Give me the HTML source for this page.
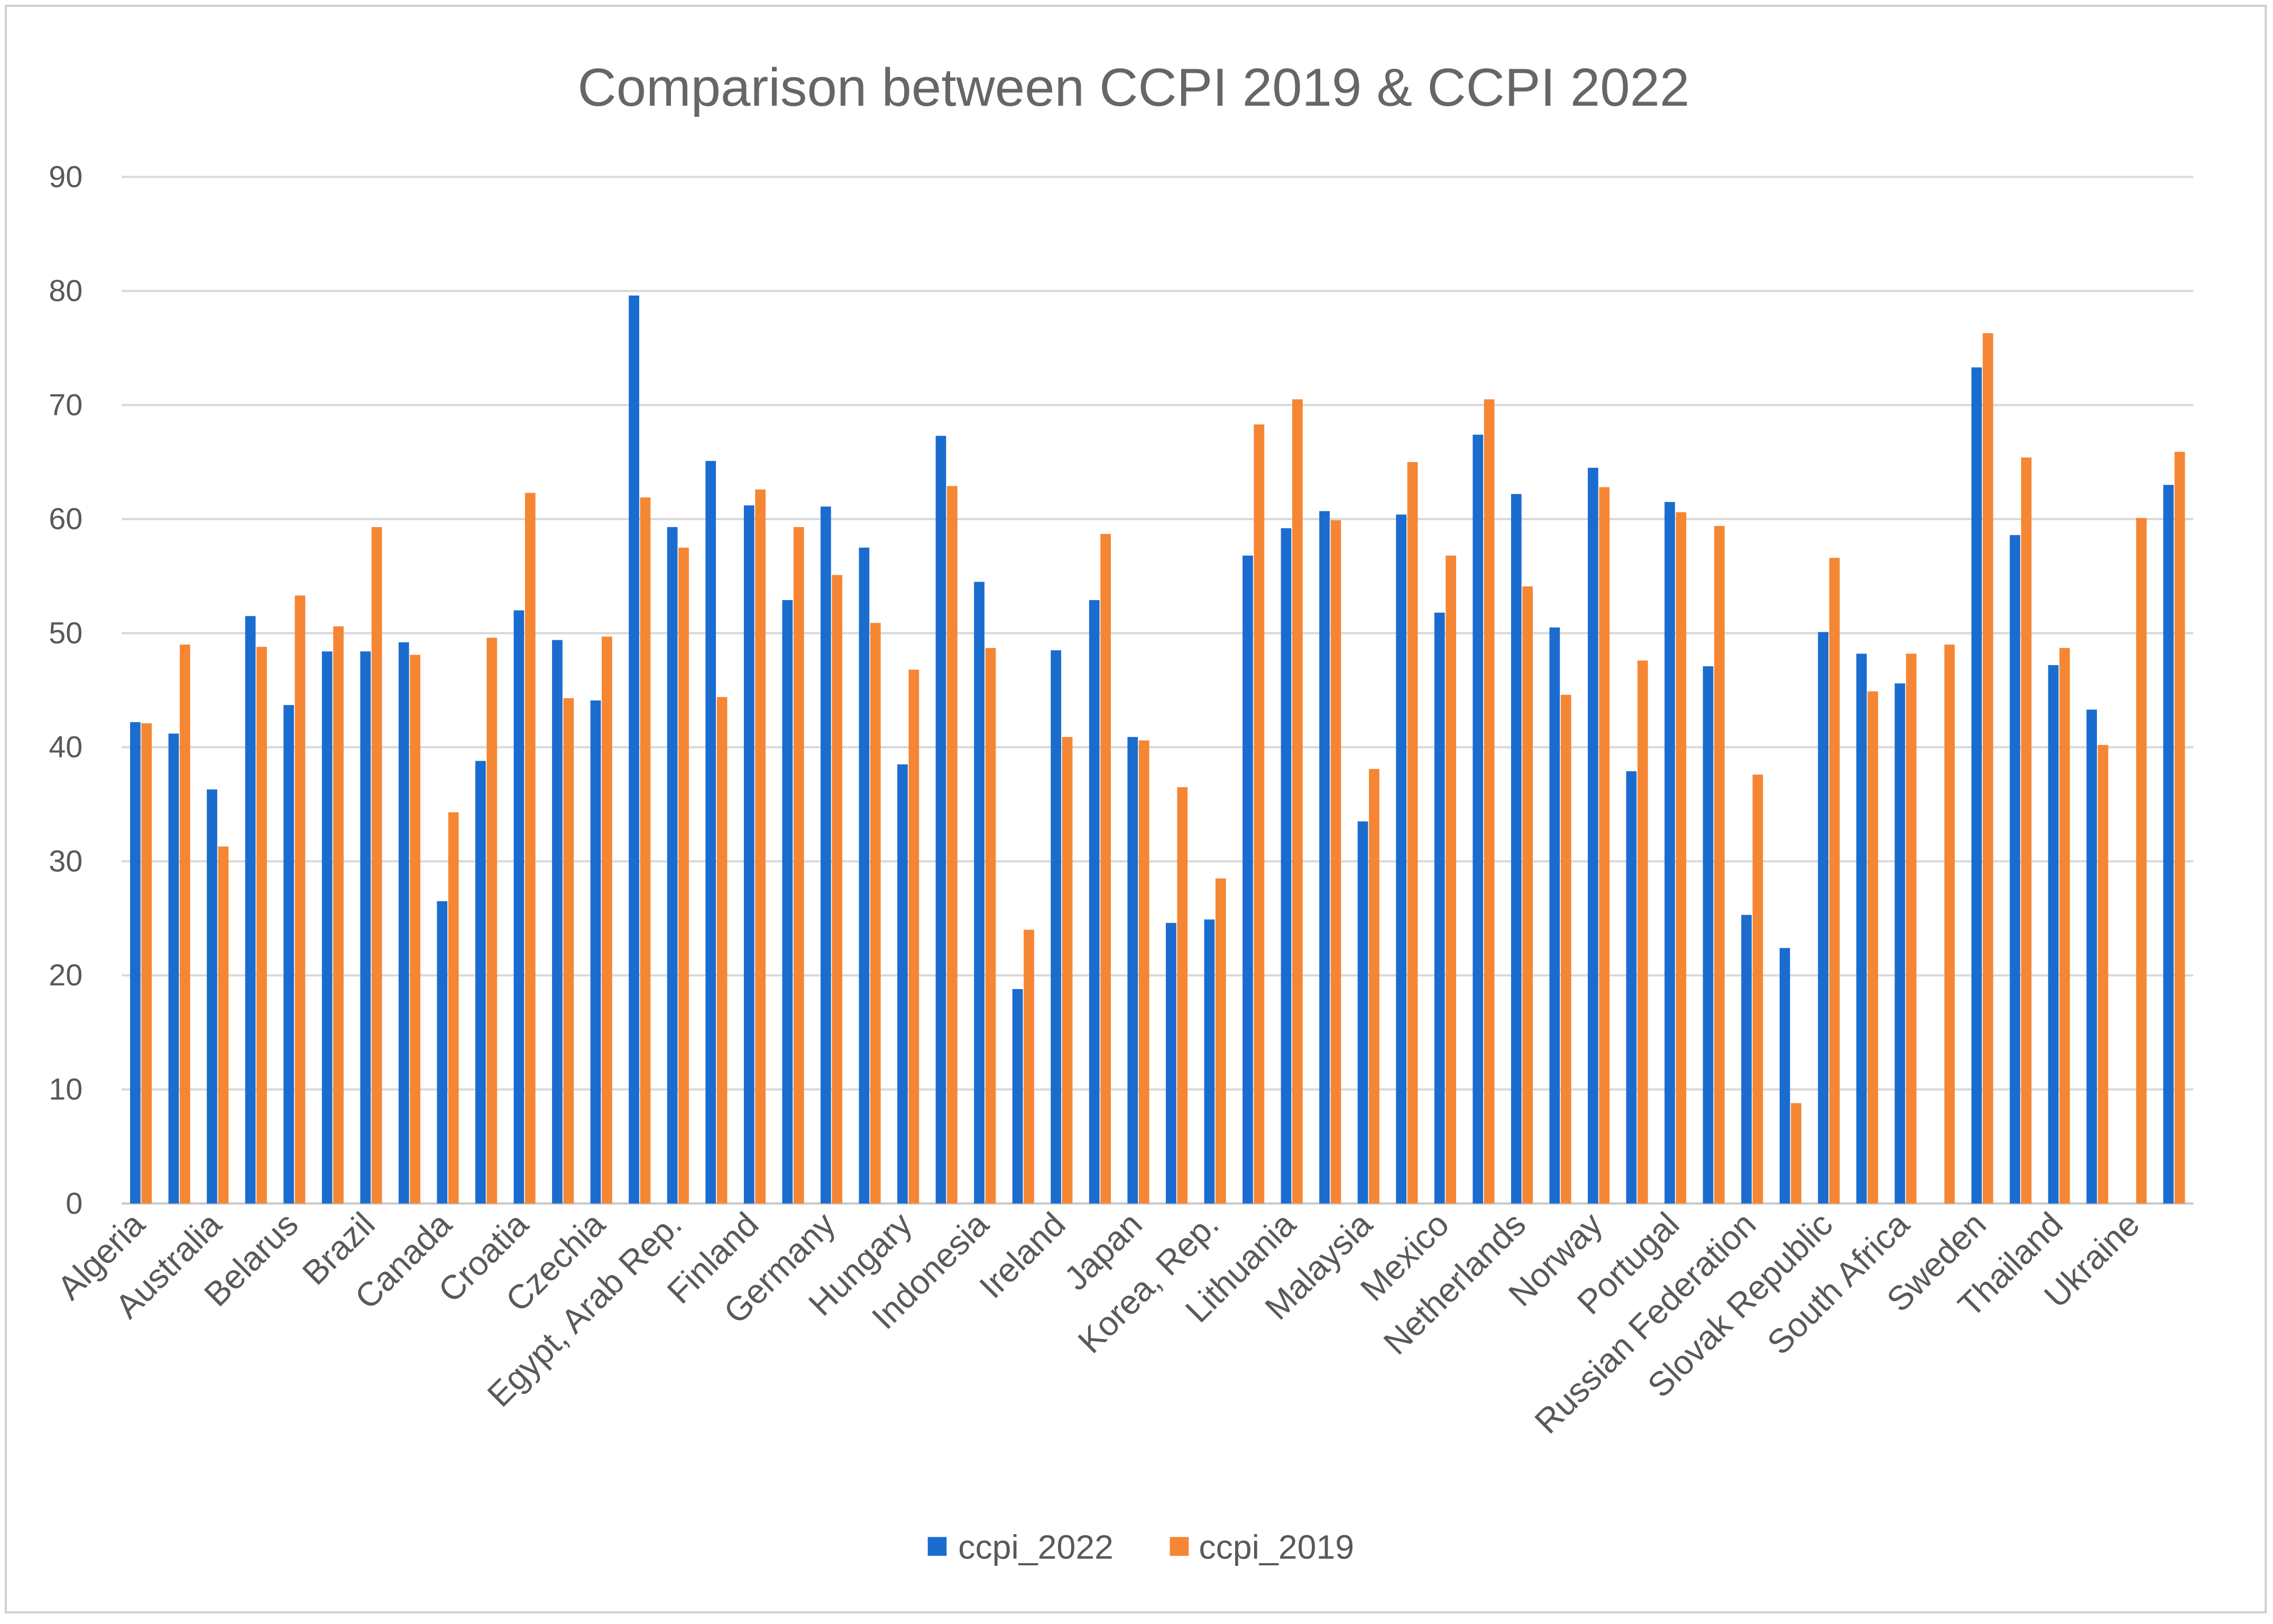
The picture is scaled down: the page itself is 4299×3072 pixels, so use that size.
<!DOCTYPE html>
<html><head><meta charset="utf-8"><style>
html,body{margin:0;padding:0;background:#fff;}
svg{display:block;font-family:"Liberation Sans",sans-serif;}
</style></head><body>
<svg id="chart" width="4299" height="3072" viewBox="0 0 1568 1120" preserveAspectRatio="none" xmlns="http://www.w3.org/2000/svg">
<rect x="4" y="4" width="1559" height="1108" fill="#fff" stroke="#d0d0d0" stroke-width="1.5"/>
<text x="782" y="73" text-anchor="middle" font-size="37" fill="#666">Comparison between CCPI 2019 &amp; CCPI 2022</text>
<g id="grid"></g><g id="bars"></g><g id="xlabels"></g>
<g>
<rect x="640" y="1060" width="13" height="13" fill="#1b6ccf"/>
<text x="661" y="1075" font-size="23.5" fill="#595959">ccpi_2022</text>
<rect x="807" y="1060" width="13" height="13" fill="#f58634"/>
<text x="827" y="1075" font-size="23.5" fill="#595959">ccpi_2019</text>
</g>
</svg>
<script>
const categories=["Algeria","Argentina","Australia","Austria","Belarus","Belgium","Brazil","Bulgaria","Canada","China","Croatia","Cyprus","Czechia","Denmark","Egypt, Arab Rep.","Estonia","Finland","France","Germany","Greece","Hungary","India","Indonesia","Iran","Ireland","Italy","Japan","Kazakhstan","Korea, Rep.","Latvia","Lithuania","Luxembourg","Malaysia","Malta","Mexico","Morocco","Netherlands","New Zealand","Norway","Poland","Portugal","Romania","Russian Federation","Saudi Arabia","Slovak Republic","Slovenia","South Africa","Spain","Sweden","Switzerland","Thailand","Turkey","Ukraine","United Kingdom"];
const ccpi2022=[42.2,41.2,36.3,51.5,43.7,48.4,48.4,49.2,26.5,38.8,52.0,49.4,44.1,79.6,59.3,65.1,61.2,52.9,61.1,57.5,38.5,67.3,54.5,18.8,48.5,52.9,40.9,24.6,24.9,56.8,59.2,60.7,33.5,60.4,51.8,67.4,62.2,50.5,64.5,37.9,61.5,47.1,25.3,22.4,50.1,48.2,45.6,null,73.3,58.6,47.2,43.3,null,63.0];
const ccpi2019=[42.1,49.0,31.3,48.8,53.3,50.6,59.3,48.1,34.3,49.6,62.3,44.3,49.7,61.9,57.5,44.4,62.6,59.3,55.1,50.9,46.8,62.9,48.7,24.0,40.9,58.7,40.6,36.5,28.5,68.3,70.5,59.9,38.1,65.0,56.8,70.5,54.1,44.6,62.8,47.6,60.6,59.4,37.6,8.8,56.6,44.9,48.2,49.0,76.3,65.4,48.7,40.2,60.1,65.9];
const yTicks=[0,10,20,30,40,50,60,70,80,90];
const NS="http://www.w3.org/2000/svg";
const X0=84,X1=1513,Y0=830,Y90=122;
const step=(X1-X0)/categories.length;
const y=v=>Y0-(v/90)*(Y0-Y90);
const xc=i=>X0+step*(i+0.5);
const grid=document.getElementById('grid'),bars=document.getElementById('bars'),xl=document.getElementById('xlabels');
function mk(t,a,p){const e=document.createElementNS(NS,t);for(const k in a)e.setAttribute(k,a[k]);p.appendChild(e);return e;}
yTicks.forEach(t=>{
 const l=mk('line',{x1:X0,x2:X1,y1:y(t),y2:y(t),stroke:t===0?'#c8c8c8':'#d9d9d9','stroke-width':1.5},grid);
 
 
 const tx=mk('text',{x:57,y:y(t)+7,'text-anchor':'end','font-size':21,fill:'#595959'},grid);
 tx.textContent=t;
 
 
});
const bw=7.2;
categories.forEach((c,i)=>{
 const cx=xc(i);
 if(ccpi2022[i]!=null){
  const r=mk('rect',{x:cx-bw-0.3,y:y(ccpi2022[i]),width:bw,height:Y0-y(ccpi2022[i]),fill:'#1b6ccf'},bars);
  
  
 }
 if(ccpi2019[i]!=null){
  const r=mk('rect',{x:cx+0.3,y:y(ccpi2019[i]),width:bw,height:Y0-y(ccpi2019[i]),fill:'#f58634'},bars);
  
  
 }
 if(i%2===0){
  const tx=mk('text',{x:0,y:0,'text-anchor':'end','font-size':23.5,fill:'#595959',transform:'translate('+(cx+4)+','+(Y0+16)+') rotate(-45)'},xl);
  tx.textContent=c;
  
  
 }
});
</script>
</body></html>
